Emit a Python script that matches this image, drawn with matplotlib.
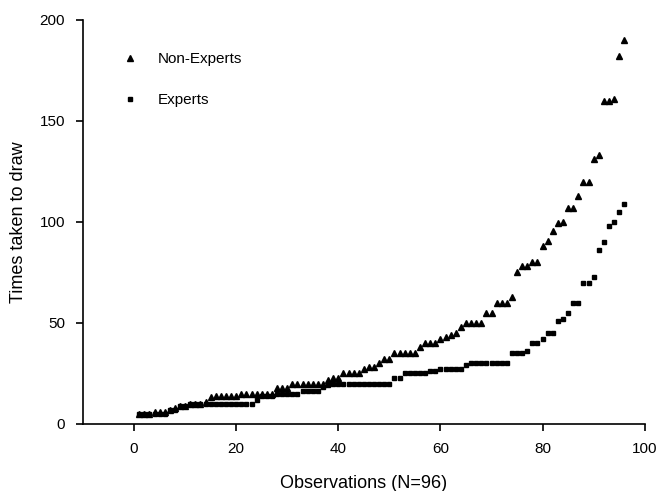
import matplotlib

matplotlib.use("Agg")
import matplotlib.pyplot as plt
import numpy as np

plt.rcParams["font.family"] = ["Liberation Sans", "DejaVu Sans"]

# ---- data (sorted times per observer) ------------------------------------ #
obs = np.arange(1, 97)

non_experts = [
    5, 5, 5, 6, 6, 6, 7, 8, 9, 9,
    10, 10, 10, 11, 13.5, 14, 14, 14, 14, 14,
    15, 15, 15, 15, 15, 15, 15, 18, 18, 18,
    20, 20, 20, 20, 20, 20, 20, 22, 23, 23,
    25, 25, 25, 25, 27, 28, 28, 30, 32, 32,
    35, 35, 35, 35, 35, 38, 40, 40, 40, 42,
    43, 44, 45, 48, 50, 50, 50, 50, 55, 55,
    60, 60, 60, 63, 75, 78, 78, 80, 80, 88,
    90.5, 95.5, 99.5, 100, 107, 107, 113, 120, 120, 131,
    133, 160, 160, 161, 182, 190,
]

experts = [
    5, 5, 5, 5, 5, 5, 7, 7, 9, 9,
    10, 10, 10, 10, 10, 10, 10, 10, 10, 10,
    10, 10, 10, 12, 14, 14, 14, 15, 15, 15,
    15, 15, 16.5, 16.5, 16.5, 16.5, 18.5, 19.5, 20, 20,
    20, 20, 20, 20, 20, 20, 20, 20, 20, 20,
    23, 23, 25, 25, 25, 25, 25, 26, 26, 27,
    27, 27, 27, 27, 29, 30, 30, 30, 30, 30,
    30, 30, 30, 35, 35, 35, 36, 40, 40, 42,
    45, 45, 51, 52, 55, 60, 60, 70, 70, 73,
    86, 90, 98, 100, 105, 109,
]

x_ticks = [0, 20, 40, 60, 80, 100]
y_ticks = [0, 50, 100, 150, 200]


def main() -> int:
    fig = plt.figure(figsize=(6.6, 4.91), dpi=100)
    ax = fig.add_axes([0.1258, 0.1365, 0.851, 0.8228])

    ax.plot(obs, non_experts, ls="none", marker="^", ms=4.4, color="black",
            label="Non-Experts")
    ax.plot(obs, experts, ls="none", marker="s", ms=3.5, color="black",
            label="Experts")

    ax.set_xlim(-10, 100)
    ax.set_ylim(0, 200)
    ax.set_xticks(x_ticks)
    ax.set_yticks(y_ticks)
    ax.spines["top"].set_visible(False)
    ax.spines["right"].set_visible(False)
    for s in ("left", "bottom"):
        ax.spines[s].set_linewidth(1.2)
    ax.tick_params(direction="out", length=5, width=1.2, labelsize=11, pad=8)

    ax.set_xlabel("Observations (N=96)", fontsize=13, labelpad=14)
    ax.set_ylabel("Times taken to draw", fontsize=13, labelpad=9)

    ax.legend(loc="upper left", bbox_to_anchor=(0.07, 0.921), frameon=False,
              fontsize=11, numpoints=1, handlelength=1.0, handletextpad=1.3,
              labelspacing=1.8, borderpad=0, borderaxespad=0)

    fig.savefig("out.png", dpi=100)
    plt.close(fig)
    return 0


if __name__ == "__main__":
    raise SystemExit(main())
